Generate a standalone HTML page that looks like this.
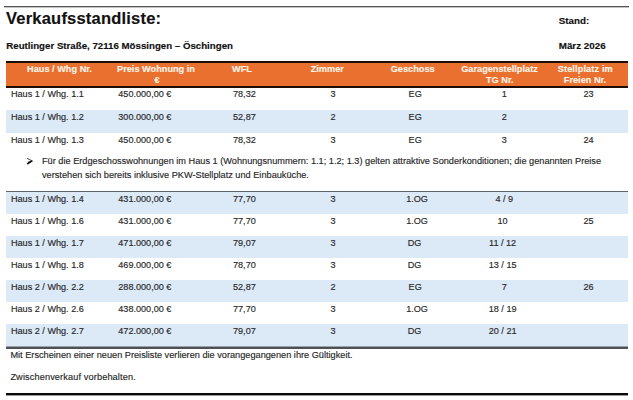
<!DOCTYPE html>
<html><head><meta charset="utf-8"><style>
html,body{margin:0;padding:0;width:633px;height:400px;overflow:hidden;background:#fff}
body{position:relative;font-family:"Liberation Sans", sans-serif}
body>div{position:absolute;white-space:nowrap;-webkit-text-stroke:0.15px currentColor}
</style></head><body>
<div style="left:4px;top:6px;width:625px;height:1px;background:#555555"></div>
<div style="left:4px;top:7px;width:625px;height:1px;background:#c4c4c4"></div>
<div style="top:8.18px;font-size:16.5px;line-height:20px;color:#111;font-weight:bold;letter-spacing:0.21px;left:6px;">Verkaufsstandliste:</div>
<div style="top:10.70px;font-size:9.8px;line-height:20px;color:#111;font-weight:bold;left:558.75px;">Stand:</div>
<div style="top:36.04px;font-size:9.7px;line-height:20px;color:#111;font-weight:bold;left:6.3px;">Reutlinger Straße, 72116 Mössingen – Öschingen</div>
<div style="top:36.00px;font-size:9.8px;line-height:20px;color:#111;font-weight:bold;left:558.75px;">März 2026</div>
<div style="left:6px;top:61px;width:622px;height:26.5px;background:#1e0b04"></div>
<div style="left:6px;top:63px;width:622px;height:22.5px;background:#EA7030"></div>
<div style="top:58.51px;font-size:9.2px;line-height:20px;color:#fff3e6;font-weight:bold;left:-90.50px;width:300px;text-align:center;">Haus / Whg Nr.</div>
<div style="top:58.51px;font-size:9.2px;line-height:20px;color:#fff3e6;font-weight:bold;left:6.00px;width:300px;text-align:center;">Preis Wohnung in</div>
<div style="top:70.01px;font-size:9.2px;line-height:20px;color:#fff3e6;font-weight:bold;left:7.00px;width:300px;text-align:center;">€</div>
<div style="top:58.51px;font-size:9.2px;line-height:20px;color:#fff3e6;font-weight:bold;left:92.00px;width:300px;text-align:center;">WFL</div>
<div style="top:58.51px;font-size:9.2px;line-height:20px;color:#fff3e6;font-weight:bold;left:177.30px;width:300px;text-align:center;">Zimmer</div>
<div style="top:58.51px;font-size:9.2px;line-height:20px;color:#fff3e6;font-weight:bold;left:262.70px;width:300px;text-align:center;">Geschoss</div>
<div style="top:58.51px;font-size:9.2px;line-height:20px;color:#fff3e6;font-weight:bold;left:349.50px;width:300px;text-align:center;">Garagenstellplatz</div>
<div style="top:70.01px;font-size:9.2px;line-height:20px;color:#fff3e6;font-weight:bold;left:349.80px;width:300px;text-align:center;">TG Nr.</div>
<div style="top:58.51px;font-size:9.2px;line-height:20px;color:#fff3e6;font-weight:bold;letter-spacing:0.12px;left:435.30px;width:300px;text-align:center;">Stellplatz im</div>
<div style="top:70.01px;font-size:9.2px;line-height:20px;color:#fff3e6;font-weight:bold;left:435.00px;width:300px;text-align:center;">Freien Nr.</div>
<div style="top:84.35px;font-size:9.1px;line-height:20px;color:#272727;left:11px;">Haus 1 / Whg. 1.1</div>
<div style="top:84.35px;font-size:9.1px;line-height:20px;color:#272727;left:118.3px;">450.000,00 €</div>
<div style="top:84.35px;font-size:9.1px;line-height:20px;color:#272727;left:233px;">78,32</div>
<div style="top:84.35px;font-size:9.1px;line-height:20px;color:#272727;left:183.00px;width:300px;text-align:center;">3</div>
<div style="top:84.35px;font-size:9.1px;line-height:20px;color:#272727;left:265.20px;width:300px;text-align:center;">EG</div>
<div style="top:84.35px;font-size:9.1px;line-height:20px;color:#272727;left:354.30px;width:300px;text-align:center;">1</div>
<div style="top:84.35px;font-size:9.1px;line-height:20px;color:#272727;left:438.50px;width:300px;text-align:center;">23</div>
<div style="left:6px;top:110px;width:622px;height:23px;background:#DCE9F7"></div>
<div style="top:106.85px;font-size:9.1px;line-height:20px;color:#272727;left:11px;">Haus 1 / Whg. 1.2</div>
<div style="top:106.85px;font-size:9.1px;line-height:20px;color:#272727;left:118.3px;">300.000,00 €</div>
<div style="top:106.85px;font-size:9.1px;line-height:20px;color:#272727;left:233px;">52,87</div>
<div style="top:106.85px;font-size:9.1px;line-height:20px;color:#272727;left:183.00px;width:300px;text-align:center;">2</div>
<div style="top:106.85px;font-size:9.1px;line-height:20px;color:#272727;left:265.20px;width:300px;text-align:center;">EG</div>
<div style="top:106.85px;font-size:9.1px;line-height:20px;color:#272727;left:354.30px;width:300px;text-align:center;">2</div>
<div style="top:106.85px;font-size:9.1px;line-height:20px;color:#272727;left:438.50px;width:300px;text-align:center;"></div>
<div style="top:129.85px;font-size:9.1px;line-height:20px;color:#272727;left:11px;">Haus 1 / Whg. 1.3</div>
<div style="top:129.85px;font-size:9.1px;line-height:20px;color:#272727;left:118.3px;">450.000,00 €</div>
<div style="top:129.85px;font-size:9.1px;line-height:20px;color:#272727;left:233px;">78,32</div>
<div style="top:129.85px;font-size:9.1px;line-height:20px;color:#272727;left:183.00px;width:300px;text-align:center;">3</div>
<div style="top:129.85px;font-size:9.1px;line-height:20px;color:#272727;left:265.20px;width:300px;text-align:center;">EG</div>
<div style="top:129.85px;font-size:9.1px;line-height:20px;color:#272727;left:354.30px;width:300px;text-align:center;">3</div>
<div style="top:129.85px;font-size:9.1px;line-height:20px;color:#272727;left:438.50px;width:300px;text-align:center;">24</div>
<svg style="position:absolute;left:24px;top:156px" width="10" height="10" viewBox="0 0 10 10"><path d="M3.0 1.7 L8.4 4.5 L7.4 5.0 L3.0 2.7 Z" fill="#444"/><path d="M8.2 4.2 L8.9 5.2 L4.0 8.5 L2.6 8.1 L4.6 5.4 Z" fill="#111"/></svg>
<div style="top:151.41px;font-size:9.2px;line-height:20px;color:#272727;left:42px;">Für die Erdgeschosswohnungen im Haus 1 (Wohnungsnummern: 1.1; 1.2; 1.3) gelten attraktive Sonderkonditionen; die genannten Preise</div>
<div style="top:164.91px;font-size:9.2px;line-height:20px;color:#272727;left:42px;">verstehen sich bereits inklusive PKW-Stellplatz und Einbauküche.</div>
<div style="left:6px;top:191px;width:622px;height:1px;background:#5f6468"></div>
<div style="left:6px;top:192px;width:622px;height:1px;background:#8f969c"></div>
<div style="left:6px;top:192px;width:622px;height:22px;background:#DCE9F7"></div>
<div style="top:188.55px;font-size:9.1px;line-height:20px;color:#272727;left:11px;">Haus 1 / Whg. 1.4</div>
<div style="top:188.55px;font-size:9.1px;line-height:20px;color:#272727;left:118.3px;">431.000,00 €</div>
<div style="top:188.55px;font-size:9.1px;line-height:20px;color:#272727;left:233px;">77,70</div>
<div style="top:188.55px;font-size:9.1px;line-height:20px;color:#272727;left:183.00px;width:300px;text-align:center;">3</div>
<div style="top:188.55px;font-size:9.1px;line-height:20px;color:#272727;left:267.00px;width:300px;text-align:center;">1.OG</div>
<div style="top:188.55px;font-size:9.1px;line-height:20px;color:#272727;left:354.30px;width:300px;text-align:center;">4 / 9</div>
<div style="top:188.55px;font-size:9.1px;line-height:20px;color:#272727;left:438.50px;width:300px;text-align:center;"></div>
<div style="top:210.55px;font-size:9.1px;line-height:20px;color:#272727;left:11px;">Haus 1 / Whg. 1.6</div>
<div style="top:210.55px;font-size:9.1px;line-height:20px;color:#272727;left:118.3px;">431.000,00 €</div>
<div style="top:210.55px;font-size:9.1px;line-height:20px;color:#272727;left:233px;">77,70</div>
<div style="top:210.55px;font-size:9.1px;line-height:20px;color:#272727;left:183.00px;width:300px;text-align:center;">3</div>
<div style="top:210.55px;font-size:9.1px;line-height:20px;color:#272727;left:267.00px;width:300px;text-align:center;">1.OG</div>
<div style="top:210.55px;font-size:9.1px;line-height:20px;color:#272727;left:352.60px;width:300px;text-align:center;">10</div>
<div style="top:210.55px;font-size:9.1px;line-height:20px;color:#272727;left:438.50px;width:300px;text-align:center;">25</div>
<div style="left:6px;top:236px;width:622px;height:22px;background:#DCE9F7"></div>
<div style="top:232.55px;font-size:9.1px;line-height:20px;color:#272727;left:11px;">Haus 1 / Whg. 1.7</div>
<div style="top:232.55px;font-size:9.1px;line-height:20px;color:#272727;left:118.3px;">471.000,00 €</div>
<div style="top:232.55px;font-size:9.1px;line-height:20px;color:#272727;left:233px;">79,07</div>
<div style="top:232.55px;font-size:9.1px;line-height:20px;color:#272727;left:183.00px;width:300px;text-align:center;">3</div>
<div style="top:232.55px;font-size:9.1px;line-height:20px;color:#272727;left:264.50px;width:300px;text-align:center;">DG</div>
<div style="top:232.55px;font-size:9.1px;line-height:20px;color:#272727;left:352.60px;width:300px;text-align:center;">11 / 12</div>
<div style="top:232.55px;font-size:9.1px;line-height:20px;color:#272727;left:438.50px;width:300px;text-align:center;"></div>
<div style="top:254.55px;font-size:9.1px;line-height:20px;color:#272727;left:11px;">Haus 1 / Whg. 1.8</div>
<div style="top:254.55px;font-size:9.1px;line-height:20px;color:#272727;left:118.3px;">469.000,00 €</div>
<div style="top:254.55px;font-size:9.1px;line-height:20px;color:#272727;left:233px;">78,70</div>
<div style="top:254.55px;font-size:9.1px;line-height:20px;color:#272727;left:183.00px;width:300px;text-align:center;">3</div>
<div style="top:254.55px;font-size:9.1px;line-height:20px;color:#272727;left:264.50px;width:300px;text-align:center;">DG</div>
<div style="top:254.55px;font-size:9.1px;line-height:20px;color:#272727;left:352.60px;width:300px;text-align:center;">13 / 15</div>
<div style="top:254.55px;font-size:9.1px;line-height:20px;color:#272727;left:438.50px;width:300px;text-align:center;"></div>
<div style="left:6px;top:280px;width:622px;height:22px;background:#DCE9F7"></div>
<div style="top:276.55px;font-size:9.1px;line-height:20px;color:#272727;left:11px;">Haus 2 / Whg. 2.2</div>
<div style="top:276.55px;font-size:9.1px;line-height:20px;color:#272727;left:118.3px;">288.000,00 €</div>
<div style="top:276.55px;font-size:9.1px;line-height:20px;color:#272727;left:233px;">52,87</div>
<div style="top:276.55px;font-size:9.1px;line-height:20px;color:#272727;left:183.00px;width:300px;text-align:center;">2</div>
<div style="top:276.55px;font-size:9.1px;line-height:20px;color:#272727;left:265.20px;width:300px;text-align:center;">EG</div>
<div style="top:276.55px;font-size:9.1px;line-height:20px;color:#272727;left:354.30px;width:300px;text-align:center;">7</div>
<div style="top:276.55px;font-size:9.1px;line-height:20px;color:#272727;left:438.50px;width:300px;text-align:center;">26</div>
<div style="top:298.55px;font-size:9.1px;line-height:20px;color:#272727;left:11px;">Haus 2 / Whg. 2.6</div>
<div style="top:298.55px;font-size:9.1px;line-height:20px;color:#272727;left:118.3px;">438.000,00 €</div>
<div style="top:298.55px;font-size:9.1px;line-height:20px;color:#272727;left:233px;">77,70</div>
<div style="top:298.55px;font-size:9.1px;line-height:20px;color:#272727;left:183.00px;width:300px;text-align:center;">3</div>
<div style="top:298.55px;font-size:9.1px;line-height:20px;color:#272727;left:267.00px;width:300px;text-align:center;">1.OG</div>
<div style="top:298.55px;font-size:9.1px;line-height:20px;color:#272727;left:352.60px;width:300px;text-align:center;">18 / 19</div>
<div style="top:298.55px;font-size:9.1px;line-height:20px;color:#272727;left:438.50px;width:300px;text-align:center;"></div>
<div style="left:6px;top:324px;width:622px;height:22px;background:#DCE9F7"></div>
<div style="top:320.55px;font-size:9.1px;line-height:20px;color:#272727;left:11px;">Haus 2 / Whg. 2.7</div>
<div style="top:320.55px;font-size:9.1px;line-height:20px;color:#272727;left:118.3px;">472.000,00 €</div>
<div style="top:320.55px;font-size:9.1px;line-height:20px;color:#272727;left:233px;">79,07</div>
<div style="top:320.55px;font-size:9.1px;line-height:20px;color:#272727;left:183.00px;width:300px;text-align:center;">3</div>
<div style="top:320.55px;font-size:9.1px;line-height:20px;color:#272727;left:264.50px;width:300px;text-align:center;">DG</div>
<div style="top:320.55px;font-size:9.1px;line-height:20px;color:#272727;left:352.60px;width:300px;text-align:center;">20 / 21</div>
<div style="top:320.55px;font-size:9.1px;line-height:20px;color:#272727;left:438.50px;width:300px;text-align:center;"></div>
<div style="left:6px;top:346px;width:622px;height:1px;background:#9aa0a6"></div>
<div style="left:6px;top:347px;width:622px;height:2px;background:#4c5156"></div>
<div style="top:345.21px;font-size:9.2px;line-height:20px;color:#272727;left:10.4px;">Mit Erscheinen einer neuen Preisliste verlieren die vorangegangenen ihre Gültigkeit.</div>
<div style="top:367.41px;font-size:9.2px;line-height:20px;color:#272727;letter-spacing:0.12px;left:10.4px;">Zwischenverkauf vorbehalten.</div>
<div style="left:6px;top:393px;width:622px;height:2px;background:#0a0a0a"></div>
<div style="left:6px;top:395px;width:622px;height:1px;background:#9a9a9a"></div>
</body></html>
